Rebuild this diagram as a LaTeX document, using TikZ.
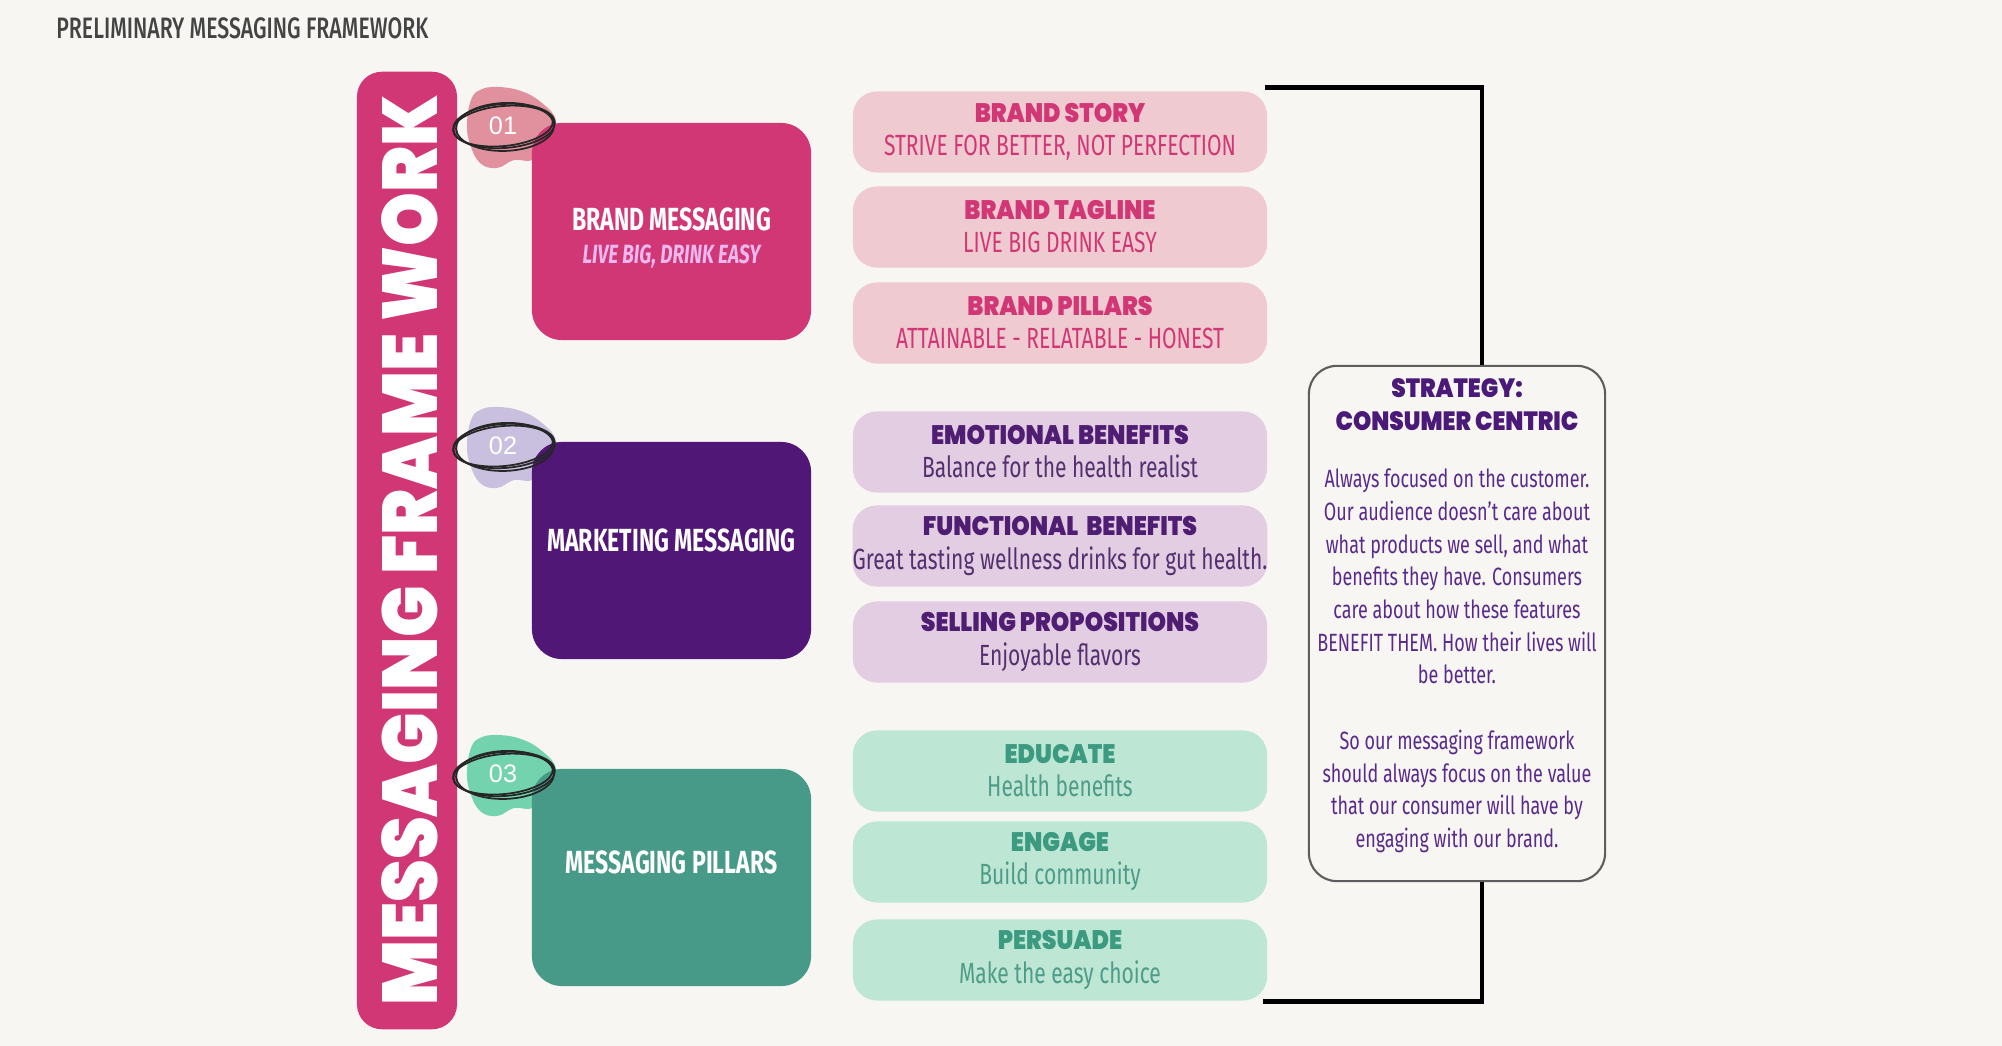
\documentclass[tikz,border=0pt]{standalone}
\usepackage{fontspec}
\usetikzlibrary{calc}
\setmainfont{Fira Sans}[FakeStretch=0.72]
\IfFontExistsTF{Poppins Black}{%
  \newfontfamily\headfont{Poppins Black}[FakeStretch=0.88]}{%
  \IfFontExistsTF{Poppins ExtraBold}{%
    \newfontfamily\headfont{Poppins ExtraBold}[FakeStretch=0.88]}{%
    \newfontfamily\headfont{Poppins}[FakeStretch=0.88, UprightFont={* Bold}]}}
\IfFontExistsTF{Fira Sans Medium}{%
  \newfontfamily\titlefont{Fira Sans Medium}[FakeStretch=0.72]}{%
  \newfontfamily\titlefont{Fira Sans}[FakeStretch=0.72]}
\newfontfamily\numfont{Liberation Sans}
\definecolor{bgcream}{HTML}{F7F6F2}
\definecolor{titlegray}{HTML}{444444}
\definecolor{framepink}{HTML}{D13775}
\definecolor{mktpurple}{HTML}{501776}
\definecolor{pillarteal}{HTML}{479A87}
\definecolor{lilac}{HTML}{EBB8F0}
\definecolor{blobpink}{HTML}{E0919D}
\definecolor{blobviolet}{HTML}{C9C0DF}
\definecolor{blobmint}{HTML}{72D3AE}
\definecolor{pillpink}{HTML}{EFCAD0}
\definecolor{pillviolet}{HTML}{E2CDE2}
\definecolor{pillmint}{HTML}{BDE7D4}
\definecolor{violettext}{HTML}{4F1E73}
\definecolor{violetsub}{HTML}{55306F}
\definecolor{mintdark}{HTML}{3B9A80}
\definecolor{mintsub}{HTML}{4E9C87}
\definecolor{strategytext}{HTML}{5A2A8A}
\definecolor{strategyhead}{HTML}{4B1A78}
\definecolor{strategygray}{HTML}{5E5E5E}
\newcommand{\pillhead}[1]{{\headfont\fontsize{7.6}{9}\selectfont #1}}
\newcommand{\stratheadfont}[1]{{\headfont\fontsize{7.5}{9}\selectfont\color{strategyhead}#1}}

\begin{document}
\begin{tikzpicture}[
    x=0.01cm,y=-0.01cm,
    bigbox/.style={rounded corners=0.3cm, minimum width=2.79cm, minimum height=2.17cm},
    boxtext/.style={align=center, text=white, font=\fontsize{9.1}{11}\selectfont\bfseries},
    pill/.style={rounded corners=0.24cm, minimum width=4.14cm, minimum height=0.81cm, align=center, inner sep=0pt, font=\fontsize{8.3}{9.4}\selectfont},
    pinkpill/.style={pill, fill=pillpink, text=framepink},
    violetpill/.style={pill, fill=pillviolet, text=violetsub},
    mintpill/.style={pill, fill=pillmint, text=mintsub},
    scribble/.style={draw=black!85, line width=0.5pt},
    numlabel/.style={text=white, font=\numfont\fontsize{7.2}{8}\selectfont},
    bracket/.style={draw=black, line width=1.3pt}
  ]
  \fill[bgcream] (0,0) rectangle (2002,1046);
  \useasboundingbox (0,0) rectangle (2002,1046);

  \node[anchor=west, text=titlegray, font=\titlefont\fontsize{8.4}{10}\selectfont] (title) at (44,28) {PRELIMINARY MESSAGING FRAMEWORK};

  % side bar
  \node[fill=framepink, rounded corners=0.25cm, minimum width=1cm, minimum height=9.57cm] (bar) at (407,550.5) {};
  \node[rotate=90, text=white, font=\headfont\fontsize{22.1}{24}\selectfont] (bartext) at (410,550.5) {MESSAGING FRAME WORK};

  % blobs behind the numbers
  \foreach \cy/\col in {126/blobpink, 446/blobviolet, 774/blobmint}{
    \begin{scope}[shift={(504,\cy)}]
      \fill[\col] plot[smooth cycle, tension=0.7] coordinates {(-33,-26) (-24,-36) (-7,-39) (17,-35) (38,-23) (52,-5) (45,19) (28,34) (10,34) (-7,42) (-24,37) (-34,18) (-37,-2)};
    \end{scope}
  }

  % main boxes
  \node[bigbox, fill=framepink] (brandmsg) at (671.5,231.5) {};
  \node[bigbox, fill=mktpurple] (mktmsg) at (671.5,550.5) {};
  \node[bigbox, fill=pillarteal] (msgpillars) at (671.5,877.5) {};
  \node[boxtext] (brandmsg-t) at (671.5,238) {BRAND MESSAGING\\[-1.6pt]{\fontsize{7.5}{9}\selectfont\itshape\color{lilac}LIVE BIG, DRINK EASY}};
  \node[boxtext] (mktmsg-t) at (671.5,540) {MARKETING MESSAGING};
  \node[boxtext] (msgpillars-t) at (671.5,862) {MESSAGING PILLARS};

  % hand drawn rings + numbers
  \foreach \cy/\num in {126/01, 446/02, 774/03}{
    \begin{scope}[shift={(504,\cy)}, rotate=4]
      \draw[scribble] (0,0) circle[x radius=51, y radius=22];
      \draw[scribble] (1,1) circle[x radius=49, y radius=24, rotate=-2];
      \draw[scribble] (-1,0) circle[x radius=50, y radius=20, rotate=1.5];
    \end{scope}
    \node[numlabel] (num\num) at (503,\cy) {\num};
  }

  % brand group
  \node[pinkpill] (story) at (1060,132) {\pillhead{BRAND STORY}\\STRIVE FOR BETTER, NOT PERFECTION};
  \node[pinkpill] (tagline) at (1060,227) {\pillhead{BRAND TAGLINE}\\LIVE BIG DRINK EASY};
  \node[pinkpill] (pillars) at (1060,323) {\pillhead{BRAND PILLARS}\\ATTAINABLE - RELATABLE - HONEST};
  % marketing group
  \node[violetpill] (emotional) at (1060,452) {\pillhead{\color{violettext}EMOTIONAL BENEFITS}\\Balance for the health realist};
  \node[violetpill] (functional) at (1060,546) {\pillhead{\color{violettext}FUNCTIONAL~~BENEFITS}\\Great tasting wellness drinks for gut health.};
  \node[violetpill] (selling) at (1060,642) {\pillhead{\color{violettext}SELLING PROPOSITIONS}\\Enjoyable flavors};
  % pillars group
  \node[mintpill] (educate) at (1060,771) {\pillhead{\color{mintdark}EDUCATE}\\Health benefits};
  \node[mintpill] (engage) at (1060,862) {\pillhead{\color{mintdark}ENGAGE}\\Build community};
  \node[mintpill] (persuade) at (1060,960) {\pillhead{\color{mintdark}PERSUADE}\\Make the easy choice};

  % strategy card
  \node[draw=strategygray, line width=0.6pt, rounded corners=0.28cm, minimum width=2.96cm, minimum height=5.15cm] (strategy) at (1457,623.5) {};
  \node[anchor=north, inner sep=0pt, align=center, text=strategytext, font=\fontsize{7.1}{9.3}\selectfont] (strategy-t) at (1457,378) {\stratheadfont{STRATEGY:}\\\stratheadfont{CONSUMER CENTRIC}\\[7pt]
    Always focused on the customer.\\Our audience doesn't care about\\what products we sell, and what\\benefits they have. Consumers\\care about how these features\\BENEFIT THEM. How their lives will\\be better.\\[9.3pt]
    So our messaging framework\\should always focus on the value\\that our consumer will have by\\engaging with our brand.};

  \draw[bracket] ($(story.north east)+(-3,-3)$) -| ($(strategy.north)+(25,0)$);
  \draw[bracket] ($(strategy.south)+(25,0)$) |- ($(persuade.south east)+(-5,0)$);
\end{tikzpicture}
\end{document}
